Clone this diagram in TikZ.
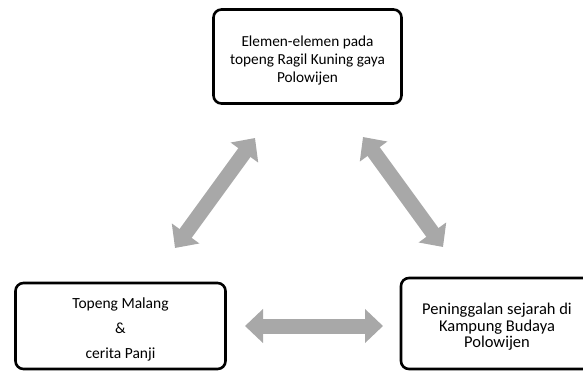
\documentclass[tikz,border=0pt]{standalone}
\usepackage{fontspec}
\setmainfont{Carlito}
\usetikzlibrary{arrows.meta}

\newcommand{\boxlines}[2]{\smash{\raisebox{#1}{\begin{tabular}{@{}c@{}}#2\end{tabular}}}}

\begin{document}
\begin{tikzpicture}[x=1pt,y=-1pt,
          box/.style={draw,line width=2.6pt,rounded corners=8pt,align=center,
            inner sep=0pt,font=\fontsize{15.3}{18}\selectfont},
          link/.style={draw=black!34,line width=15pt,
            {Triangle[length=18pt,width=33pt]}-{Triangle[length=18pt,width=33pt]}}
        ]
        \useasboundingbox (0,0) rectangle (583,372);
        \node[box,minimum width=188pt,minimum height=94pt] (elemen) at (307.5,56.5)
          {\boxlines{-8pt}{Elemen-elemen pada\\topeng Ragil Kuning gaya\\Polowijen}};
        \node[box,minimum width=210pt,minimum height=86pt,
          font=\fontsize{15.5}{25}\selectfont] (malang) at (120.5,326)
          {\boxlines{-6.5pt}{Topeng Malang\\\&\\cerita Panji}};
        \node[box,minimum width=192pt,minimum height=91pt,
          font=\fontsize{16.5}{16.5}\selectfont] (kampung) at (497,323.5)
          {\boxlines{-9pt}{Peninggalan sejarah di\\Kampung Budaya\\Polowijen}};
        % arrow ends
        \coordinate (ml) at (175,248);
        \coordinate (el) at (255,138);
        \coordinate (er) at (363,137);
        \coordinate (kr) at (443,247);
        \coordinate (mk) at (245,326);
        \coordinate (km) at (383,326);
        \draw[link] (ml) -- (el);
        \draw[link] (er) -- (kr);
        \draw[link] (mk) -- (km);
      \end{tikzpicture}
\end{document}
